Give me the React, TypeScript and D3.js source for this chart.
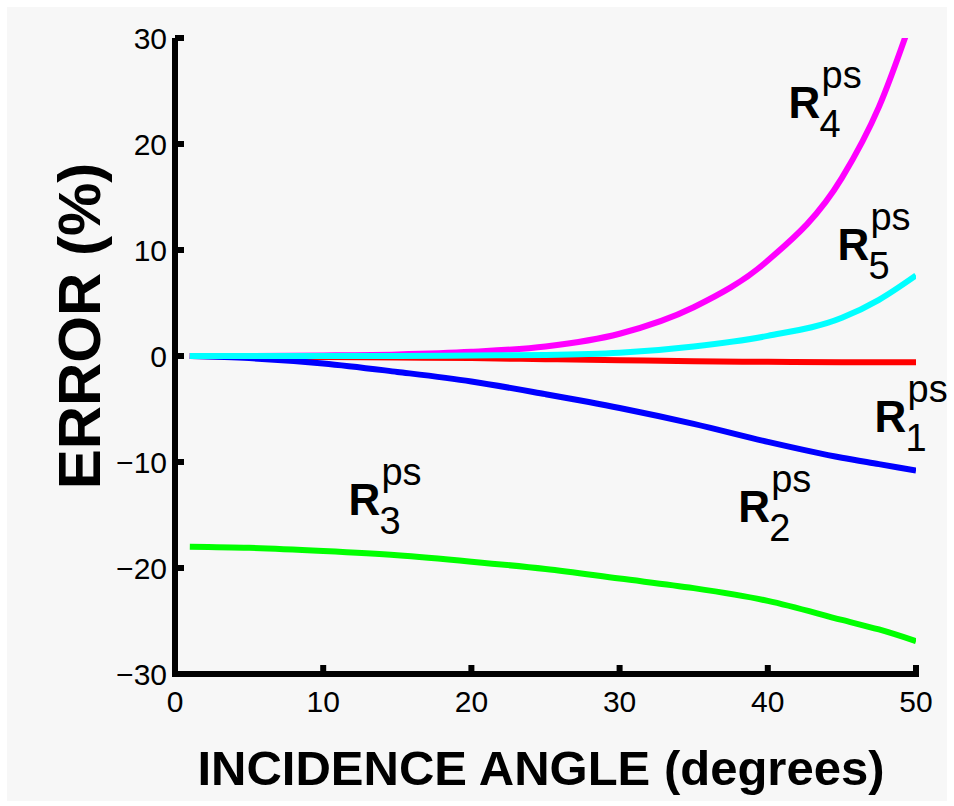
import React from "react";
import * as d3 from "d3";

// incidence angle samples (degrees)
const angles = [1, 5, 10, 15, 20, 25, 30, 35, 40, 45, 47.5, 50];

// error (%) per coefficient
const r1 = [0, -0.05, -0.1, -0.15, -0.2, -0.3, -0.4, -0.5, -0.55, -0.6, -0.6, -0.6];
const r2 = [0, -0.2, -0.7, -1.5, -2.4, -3.6, -4.9, -6.4, -8.1, -9.6, -10.2, -10.8];
const r3 = [-18, -18.1, -18.4, -18.8, -19.4, -20.1, -21.0, -21.9, -23.1, -24.9, -25.8, -26.9];
const r4 = [0, 0, 0.05, 0.15, 0.4, 0.9, 2.1, 4.6, 9.0, 16.8, 23.5, 33];
const r5 = [0, 0, 0, 0, 0.05, 0.1, 0.3, 0.9, 1.9, 3.6, 5.3, 7.6];

const xTicks = [0, 10, 20, 30, 40, 50];
const yTicks = [-30, -20, -10, 0, 10, 20, 30];

// label anchor (angle, error) for each curve's R_n^ps tag
const seriesList = [
  { name: "1", values: r1, color: "#ff0000", label: [47.2, -7.2] },
  { name: "2", values: r2, color: "#0000ff", label: [38.0, -15.7] },
  { name: "3", values: r3, color: "#00ff00", label: [11.7, -15.0] },
  { name: "4", values: r4, color: "#ff00ff", label: [41.4, 22.5] },
  { name: "5", values: r5, color: "#00ffff", label: [44.7, 9.1] },
];

const W = 954;
const H = 806;
const FONT = "'Liberation Sans', Arial, Helvetica, sans-serif";

export default function App() {
  const x = d3.scaleLinear().domain([0, 50]).range([175, 916]);
  const y = d3.scaleLinear().domain([-30, 30]).range([674, 38]);

  const line = (vals: number[]) =>
    d3
      .line<number>()
      .x((_, i) => x(angles[i]))
      .y((v) => y(v))
      .curve(d3.curveMonotoneX)(vals) || "";

  const fmt = (v: number) => (v < 0 ? "\u2212" + Math.abs(v) : String(v));

  return (
    <svg
      width={W}
      height={H}
      style={{ position: "absolute", left: 0, top: 0, background: "#fff" }}
      fontFamily={FONT}
    >
      <defs>
        <clipPath id="plot">
          <rect x={x(0)} y={y(30)} width={x(50) - x(0)} height={y(-30) - y(30)} />
        </clipPath>
      </defs>
      <rect x={7} y={7} width={940} height={794} fill="#f7f7f7" />

      {/* curves */}
      <g clipPath="url(#plot)">
        {seriesList.map((s) => (
          <path
            key={s.name}
            d={line(s.values)}
            fill="none"
            stroke={s.color}
            strokeWidth={6}
            strokeLinejoin="round"
          />
        ))}
      </g>

      {/* axes */}
      <line x1={x(0)} x2={x(0)} y1={y(30)} y2={y(-30) + 3} stroke="#000" strokeWidth={6} />
      <line x1={x(0) - 3} x2={x(50) + 3} y1={y(-30)} y2={y(-30)} stroke="#000" strokeWidth={6} />
      {yTicks.map((t) => (
        <g key={"y" + t}>
          <line x1={x(0)} x2={x(0) + 9} y1={y(t)} y2={y(t)} stroke="#000" strokeWidth={6} />
          <text x={167} y={y(t)} dy="0.36em" textAnchor="end" fontSize={30}>
            {fmt(t)}
          </text>
        </g>
      ))}
      {xTicks.map((t) => (
        <g key={"x" + t}>
          <line x1={x(t)} x2={x(t)} y1={y(-30)} y2={y(-30) - 9} stroke="#000" strokeWidth={6} />
          <text x={x(t)} y={712} textAnchor="middle" fontSize={30}>
            {t}
          </text>
        </g>
      ))}

      {/* axis titles */}
      <text x={541} y={785} textAnchor="middle" fontSize={49} fontWeight="bold">
        INCIDENCE ANGLE (degrees)
      </text>
      <text
        transform="translate(100,326) rotate(-90)"
        textAnchor="middle"
        fontSize={60}
        fontWeight="bold"
      >
        ERROR (%)
      </text>

      {/* curve labels R_n^ps */}
      {seriesList.map((s) => {
        const lx = x(s.label[0]);
        const ly = y(s.label[1]);
        return (
          <g key={"lab" + s.name}>
            <text x={lx} y={ly} fontSize={44} fontWeight="bold">
              R
            </text>
            <text x={lx + 31} y={ly + 19} fontSize={38}>
              {s.name}
            </text>
            <text x={lx + 33} y={ly - 30} fontSize={38}>
              ps
            </text>
          </g>
        );
      })}
    </svg>
  );
}
